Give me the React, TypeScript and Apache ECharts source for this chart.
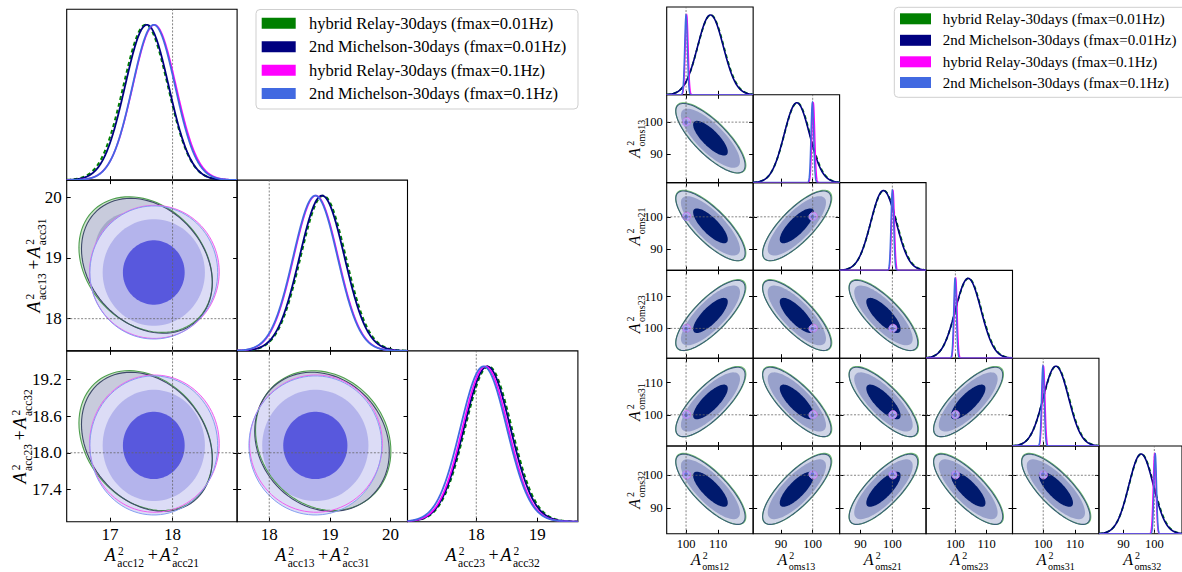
import React, { useEffect, useRef } from "react";
import * as echarts from "echarts";

const FONT = "Liberation Serif";

// legend entries, in drawing order
const seriesNames = [
  "hybrid Relay-30days (fmax=0.01Hz)",
  "2nd Michelson-30days (fmax=0.01Hz)",
  "hybrid Relay-30days (fmax=0.1Hz)",
  "2nd Michelson-30days (fmax=0.1Hz)",
];
const seriesColors = ["#008000", "#000080", "#ff00ff", "#4169e1"];

// ---- acceleration-noise corner (3 parameters) ----
const accSubs = [["acc12", "acc21"], ["acc13", "acc31"], ["acc23", "acc32"]];
const accRange = [[16.31, 19.03], [17.47, 20.28], [16.87, 19.67]];
const accTicksX = [[17, 18], [18, 19, 20], [18, 19]];
const accTicksY = [[], [18, 19, 20], [17.4, 18.0, 18.6, 19.2]];
const accTickDecimals = [0, 0, 1];
const accTruth = [18, 18, 18];
const accMeanRelay001 = [17.57, 18.89, 18.2];
const accSigmaRelay001 = [0.355, 0.372, 0.382];
const accMeanMich001 = [17.59, 18.87, 18.18];
const accSigmaMich001 = [0.348, 0.37, 0.38];
const accMeanRelay01 = [17.71, 18.77, 18.15];
const accSigmaRelay01 = [0.345, 0.365, 0.375];
const accMeanMich01 = [17.7, 18.76, 18.12];
const accSigmaMich01 = [0.34, 0.365, 0.38];
const accCorr = [
  [1, -0.25, -0.25],
  [-0.25, 1, -0.15],
  [-0.25, -0.15, 1],
];
const accLevels = [1.45, 2.4, 3.0];

// ---- optical-metrology-noise corner (6 parameters) ----
const omsSubs = [["oms12"], ["oms13"], ["oms21"], ["oms23"], ["oms31"], ["oms32"]];
const omsRange = [[93.97, 120.9], [81.2, 108.5], [83.4, 110.6], [90.6, 118.3], [90.3, 117.6], [82.0, 109.0]];
const omsTicks = [[100, 110], [90, 100], [90, 100], [100, 110], [100, 110], [90, 100]];
const omsTickDecimals = [0, 0, 0, 0, 0, 0];
const omsTruth = [100, 100, 100, 100, 100, 100];
const omsMeanRelay001 = [107.7, 95.1, 97.3, 104.2, 104.1, 95.8];
const omsSigmaRelay001 = [4.05, 4.05, 4.05, 4.15, 4.05, 4.05];
const omsMeanMich001 = [107.6, 95.0, 97.2, 104.1, 104.0, 95.7];
const omsSigmaMich001 = [4.0, 4.0, 4.0, 4.1, 4.0, 4.0];
const omsMeanRelay01 = [100.2, 100.2, 100.2, 100.1, 100.1, 100.1];
const omsSigmaRelay01 = [0.45, 0.45, 0.45, 0.45, 0.45, 0.45];
const omsMeanMich01 = [100.0, 99.9, 100.0, 99.9, 99.9, 100.3];
const omsSigmaMich01 = [0.42, 0.42, 0.42, 0.42, 0.42, 0.42];
const omsCorr = [
  [1, -0.78, -0.78, 0.78, 0.78, -0.78],
  [-0.78, 1, 0.78, -0.78, -0.78, 0.78],
  [-0.78, 0.78, 1, -0.78, -0.78, 0.78],
  [0.78, -0.78, -0.78, 1, 0.78, -0.78],
  [0.78, -0.78, -0.78, 0.78, 1, -0.78],
  [-0.78, 0.78, 0.78, -0.78, -0.78, 1],
];
const omsLevels = [1.35, 2.3, 2.7];

// fill colours per series: [outer, middle, core]
const accFills = [
  ["#cfe2cf", "#a9c9a9", "#5f8f5f"],
  ["#c8cbdc", "#a4a9c9", "#4a5296"],
  ["#f0d5f5", "#d8b8ef", "#7257dc"],
  ["#dcdcf6", "#b4b4ec", "#5858dd"],
];
const accStrokes = ["#4f9f4f", "#3e4a6a", "#f060f0", "#86a0f0"];
const omsFills = [
  ["#d0e4d0", "#a0c0a0", "#2a5a3a"],
  ["#d0d5e7", "#98a1cb", "#001a6e"],
  ["#e8c6f6", "#d5a8f0", "#b283ec"],
  ["#c9c4f3", "#aba8ee", "#6a6fe0"],
];
const omsStrokes = ["#72bd72", "#3a5e78", "#cf6cf2", "#9d95f0"];

type Corner = {
  n: number;
  x0: number;
  y0: number;
  cw: number;
  ch: number;
  ranges: number[][];
  ticksX: number[][];
  ticksY: number[][];
  decimals: number[];
  truth: number[];
  means: number[][];
  sigmas: number[][];
  corr: number[][];
  levels: number[];
  fills: string[][];
  strokes: string[];
  tickSize: number;
  xMargin: number;
  yMargin: number;
  curveWidths: number[];
};

const accCorner: Corner = {
  n: 3,
  x0: 66.7,
  y0: 9.3,
  cw: 170.4,
  ch: 170.8,
  ranges: accRange,
  ticksX: accTicksX,
  ticksY: accTicksY,
  decimals: accTickDecimals,
  truth: accTruth,
  means: [accMeanRelay001, accMeanMich001, accMeanRelay01, accMeanMich01],
  sigmas: [accSigmaRelay001, accSigmaMich001, accSigmaRelay01, accSigmaMich01],
  corr: accCorr,
  levels: accLevels,
  fills: accFills,
  strokes: accStrokes,
  tickSize: 17,
  xMargin: 4,
  yMargin: 5,
  curveWidths: [2, 1.8, 1.6, 1.8],
};

const omsCorner: Corner = {
  n: 6,
  x0: 666.7,
  y0: 7,
  cw: 86.45,
  ch: 87.8,
  ranges: omsRange,
  ticksX: omsTicks,
  ticksY: omsTicks,
  decimals: omsTickDecimals,
  truth: omsTruth,
  means: [omsMeanRelay001, omsMeanMich001, omsMeanRelay01, omsMeanMich01],
  sigmas: [omsSigmaRelay001, omsSigmaMich001, omsSigmaRelay01, omsSigmaMich01],
  corr: omsCorr,
  levels: omsLevels,
  fills: omsFills,
  strokes: omsStrokes,
  tickSize: 12.5,
  xMargin: 4,
  yMargin: 4,
  curveWidths: [1.8, 1.6, 1.4, 1.5],
};

function ellipsePoints(api: any, mx: number, my: number, sx: number, sy: number, rho: number, r: number) {
  const pts: number[][] = [];
  const k = Math.sqrt(Math.max(0, 1 - rho * rho));
  const N = 90;
  for (let i = 0; i <= N; i++) {
    const t = (i / N) * Math.PI * 2;
    const c = Math.cos(t);
    const s = Math.sin(t);
    pts.push(api.coord([mx + r * sx * c, my + r * sy * (rho * c + k * s)]));
  }
  return pts;
}

function buildOption() {
  const option: any = {
    animation: false,
    backgroundColor: "#ffffff",
    textStyle: { fontFamily: FONT },
    grid: [],
    xAxis: [],
    yAxis: [],
    series: [],
    graphic: [],
  };

  const tickStyle = { color: "#000", width: 1 };

  const addCorner = (c: Corner) => {
    for (let i = 0; i < c.n; i++) {
      for (let j = 0; j <= i; j++) {
        const gi = option.grid.length;
        option.grid.push({
          left: c.x0 + j * c.cw,
          top: c.y0 + i * c.ch,
          width: c.cw,
          height: c.ch,
          show: true,
          borderColor: "#000",
          borderWidth: 1.1,
          backgroundColor: "transparent",
          containLabel: false,
        });
        const xi = option.xAxis.length;
        option.xAxis.push({
          type: "value",
          gridIndex: gi,
          position: "bottom",
          min: c.ranges[j][0],
          max: c.ranges[j][1],
          axisLine: { show: false },
          splitLine: { show: false },
          axisTick: { show: true, inside: true, length: 4, customValues: c.ticksX[j], lineStyle: tickStyle },
          axisLabel: {
            show: i === c.n - 1,
            customValues: c.ticksX[j],
            formatter: (v: number) => v.toFixed(0),
            color: "#000",
            fontFamily: FONT,
            fontSize: c.tickSize,
            margin: c.xMargin,
          },
        });
        const yi = option.yAxis.length;
        const [xlo, xhi] = c.ranges[j];
        if (i === j) {
          option.yAxis.push({
            type: "value",
            gridIndex: gi,
            min: 0,
            max: 1.1,
            axisLine: { show: false },
            splitLine: { show: false },
            axisTick: { show: false },
            axisLabel: { show: false },
          });
          // truth line
          option.series.push({
            type: "custom",
            xAxisIndex: xi,
            yAxisIndex: yi,
            silent: true,
            clip: true,
            data: [[c.truth[j], 0]],
            renderItem: (_p: any, api: any) => {
              const a = api.coord([api.value(0), 0]);
              const b = api.coord([api.value(0), 1.1]);
              return {
                type: "line",
                shape: { x1: a[0], y1: a[1], x2: b[0], y2: b[1] },
                style: { stroke: "#666", lineWidth: 0.8, lineDash: [2, 1.6] },
              };
            },
          });
          // 1D marginals
          const data = [0, 1, 2, 3].map((s) => [c.means[s][j], c.sigmas[s][j], s]);
          option.series.push({
            type: "custom",
            xAxisIndex: xi,
            yAxisIndex: yi,
            silent: true,
            clip: true,
            data,
            renderItem: (_p: any, api: any) => {
              const m = api.value(0);
              const sd = api.value(1);
              const k = api.value(2);
              const pts: number[][] = [];
              const N = 600;
              for (let q = 0; q <= N; q++) {
                const x = xlo + ((xhi - xlo) * q) / N;
                const z = (x - m) / sd;
                pts.push(api.coord([x, Math.exp(-0.5 * z * z)]));
              }
              return {
                type: "polyline",
                shape: { points: pts },
                style: {
                  fill: "none",
                  stroke: seriesColors[k],
                  lineWidth: c.curveWidths[k],
                  lineDash: k === 0 ? [4, 3] : null,
                },
              };
            },
          });
        } else {
          const decY = c.decimals[i];
          option.yAxis.push({
            type: "value",
            gridIndex: gi,
            position: "left",
            min: c.ranges[i][0],
            max: c.ranges[i][1],
            axisLine: { show: false },
            splitLine: { show: false },
            axisTick: { show: true, inside: true, length: 4, customValues: c.ticksY[i], lineStyle: tickStyle },
            axisLabel: {
              show: j === 0,
              customValues: c.ticksY[i],
              formatter: (v: number) => v.toFixed(decY),
              color: "#000",
              fontFamily: FONT,
              fontSize: c.tickSize,
              margin: c.yMargin,
            },
          });
          // tick-only axes on the top and right edges
          option.xAxis.push({
            type: "value",
            gridIndex: gi,
            position: "top",
            min: c.ranges[j][0],
            max: c.ranges[j][1],
            axisLine: { show: false },
            splitLine: { show: false },
            axisTick: { show: true, inside: true, length: 4, customValues: c.ticksX[j], lineStyle: tickStyle },
            axisLabel: { show: false },
          });
          option.yAxis.push({
            type: "value",
            gridIndex: gi,
            position: "right",
            min: c.ranges[i][0],
            max: c.ranges[i][1],
            axisLine: { show: false },
            splitLine: { show: false },
            axisTick: { show: true, inside: true, length: 4, customValues: c.ticksY[i], lineStyle: tickStyle },
            axisLabel: { show: false },
          });
          const rho = c.corr[i][j];
          const data: number[][] = [];
          for (let mode = 0; mode < 2; mode++) {
            for (let s = 0; s < 4; s++) {
              data.push([c.means[s][j], c.means[s][i], c.sigmas[s][j], c.sigmas[s][i], s < 2 ? rho : 0, s, mode]);
            }
          }
          const levels = c.levels;
          option.series.push({
            type: "custom",
            xAxisIndex: xi,
            yAxisIndex: yi,
            silent: true,
            clip: true,
            data,
            renderItem: (_p: any, api: any) => {
              const mx = api.value(0);
              const my = api.value(1);
              const sx = api.value(2);
              const sy = api.value(3);
              const r = api.value(4);
              const s = api.value(5);
              const mode = api.value(6);
              if (mode === 0) {
                const children = [2, 1, 0].map((lv, idx) => ({
                  type: "polygon",
                  shape: { points: ellipsePoints(api, mx, my, sx, sy, r, levels[lv]) },
                  style: { fill: c.fills[s][idx], stroke: "none" },
                }));
                return { type: "group", children };
              }
              return {
                type: "polygon",
                shape: { points: ellipsePoints(api, mx, my, sx, sy, r, levels[2]) },
                style: { fill: "none", stroke: c.strokes[s], lineWidth: s < 2 ? 1.1 : 1 },
              };
            },
          });
          const [ylo, yhi] = c.ranges[i];
          option.series.push({
            type: "custom",
            xAxisIndex: xi,
            yAxisIndex: yi,
            silent: true,
            clip: true,
            data: [[c.truth[j], c.truth[i]]],
            renderItem: (_p: any, api: any) => {
              const tx = api.value(0);
              const ty = api.value(1);
              const a = api.coord([tx, ylo]);
              const b = api.coord([tx, yhi]);
              const d = api.coord([xlo, ty]);
              const e = api.coord([xhi, ty]);
              const st = { stroke: "#666", lineWidth: 0.8, lineDash: [2, 1.6] };
              return {
                type: "group",
                children: [
                  { type: "line", shape: { x1: a[0], y1: a[1], x2: b[0], y2: b[1] }, style: st },
                  { type: "line", shape: { x1: d[0], y1: d[1], x2: e[0], y2: e[1] }, style: st },
                ],
              };
            },
          });
        }
      }
    }
  };

  addCorner(accCorner);
  addCorner(omsCorner);

  // axis titles: A^2_{sub} (+ A^2_{sub}); the "2" and the subscript are stacked as two lines
  const canvas = document.createElement("canvas");
  const ctx = canvas.getContext("2d") as CanvasRenderingContext2D;
  const measure = (t: string, font: string) => {
    ctx.font = font;
    return ctx.measureText(t).width;
  };
  const mathLabel = (subs: string[], fa: number, fsub: number, x: number, y: number, rotated: boolean) => {
    const fA = `italic ${fa}px ${FONT}`;
    const fS = `${fsub}px ${FONT}`;
    const fP = `${fa}px ${FONT}`;
    const items: any[] = [];
    let cx = 0;
    const stackY = 0.12 * fa;
    const stackLH = fsub + 0.5;
    subs.forEach((sub, k) => {
      if (k > 0) {
        cx += 0.2 * fa;
        items.push({ t: "+", x: cx, y: 0, font: fP });
        cx += measure("+", fP) + 0.1 * fa;
      }
      items.push({ t: "A", x: cx, y: 0, font: fA });
      const wA = measure("A", fA);
      const gap = 1.5;
      items.push({
        t: `{p|2}\n{b|${sub}}`,
        x: cx + wA + gap,
        y: stackY,
        font: fS,
        rich: {
          p: { fontSize: fsub, fontFamily: FONT, lineHeight: stackLH, padding: [0, 0, 0, 0.6], fill: "#000" },
          b: { fontSize: fsub, fontFamily: FONT, lineHeight: stackLH, fill: "#000" },
        },
      });
      cx += wA + gap + measure(sub, fS);
    });
    const off = -cx / 2;
    return {
      type: "group",
      x,
      y,
      rotation: rotated ? Math.PI / 2 : 0,
      silent: true,
      children: items.map((it) => ({
        type: "text",
        x: it.x + off,
        y: it.y,
        style: {
          text: it.t,
          font: it.font,
          fill: "#000",
          align: "left",
          verticalAlign: "middle",
          ...(it.rich ? { rich: it.rich } : {}),
        },
      })),
    };
  };

  const g = option.graphic;
  for (let j = 0; j < 3; j++) {
    g.push(mathLabel(accSubs[j], 18, 11.5, accCorner.x0 + (j + 0.5) * accCorner.cw, 555, false));
  }
  const accYLabelX = [0, 34, 19.5];
  for (let i = 1; i < 3; i++) {
    g.push(mathLabel(accSubs[i], 18, 11.5, accYLabelX[i], accCorner.y0 + (i + 0.5) * accCorner.ch, true));
  }
  for (let j = 0; j < 6; j++) {
    g.push(mathLabel(omsSubs[j], 16, 10, omsCorner.x0 + (j + 0.5) * omsCorner.cw, 559, false));
  }
  for (let i = 1; i < 6; i++) {
    g.push(mathLabel(omsSubs[i], 16, 10, 634, omsCorner.y0 + (i + 0.5) * omsCorner.ch, true));
  }

  // legends
  const legend = (bx: number, by: number, bw: number, bh: number, sx: number, sw: number, rows: number[], tx: number, fs: number) => {
    const children: any[] = [
      {
        type: "rect",
        shape: { x: bx, y: by, width: bw, height: bh, r: 4 },
        style: { fill: "rgba(255,255,255,0.85)", stroke: "#cfcfcf", lineWidth: 1 },
      },
    ];
    seriesNames.forEach((name, k) => {
      children.push({
        type: "rect",
        shape: { x: sx, y: rows[k] - 5.5, width: sw, height: 11 },
        style: { fill: seriesColors[k] },
      });
      children.push({
        type: "text",
        x: tx,
        y: rows[k],
        style: { text: name, font: `${fs}px ${FONT}`, fill: "#000", align: "left", verticalAlign: "middle" },
      });
    });
    return { type: "group", silent: true, z: 100, children };
  };
  g.push(legend(256, 9.5, 322, 99.5, 261.7, 34, [23.2, 46.7, 70.3, 93.5], 309, 16.5));
  g.push(legend(894.3, 7.3, 300, 90, 900, 31, [18.8, 40.3, 61.8, 82.5], 942.7, 15));

  return option;
}

export default function App() {
  const ref = useRef<HTMLDivElement>(null);
  useEffect(() => {
    if (!ref.current) return;
    const chart = echarts.init(ref.current, undefined, { renderer: "svg" });
    chart.setOption(buildOption());
    return () => chart.dispose();
  }, []);
  return (
    <div
      ref={ref}
      style={{ position: "absolute", left: 0, top: 0, width: 1182, height: 572, background: "#fff" }}
    />
  );
}
